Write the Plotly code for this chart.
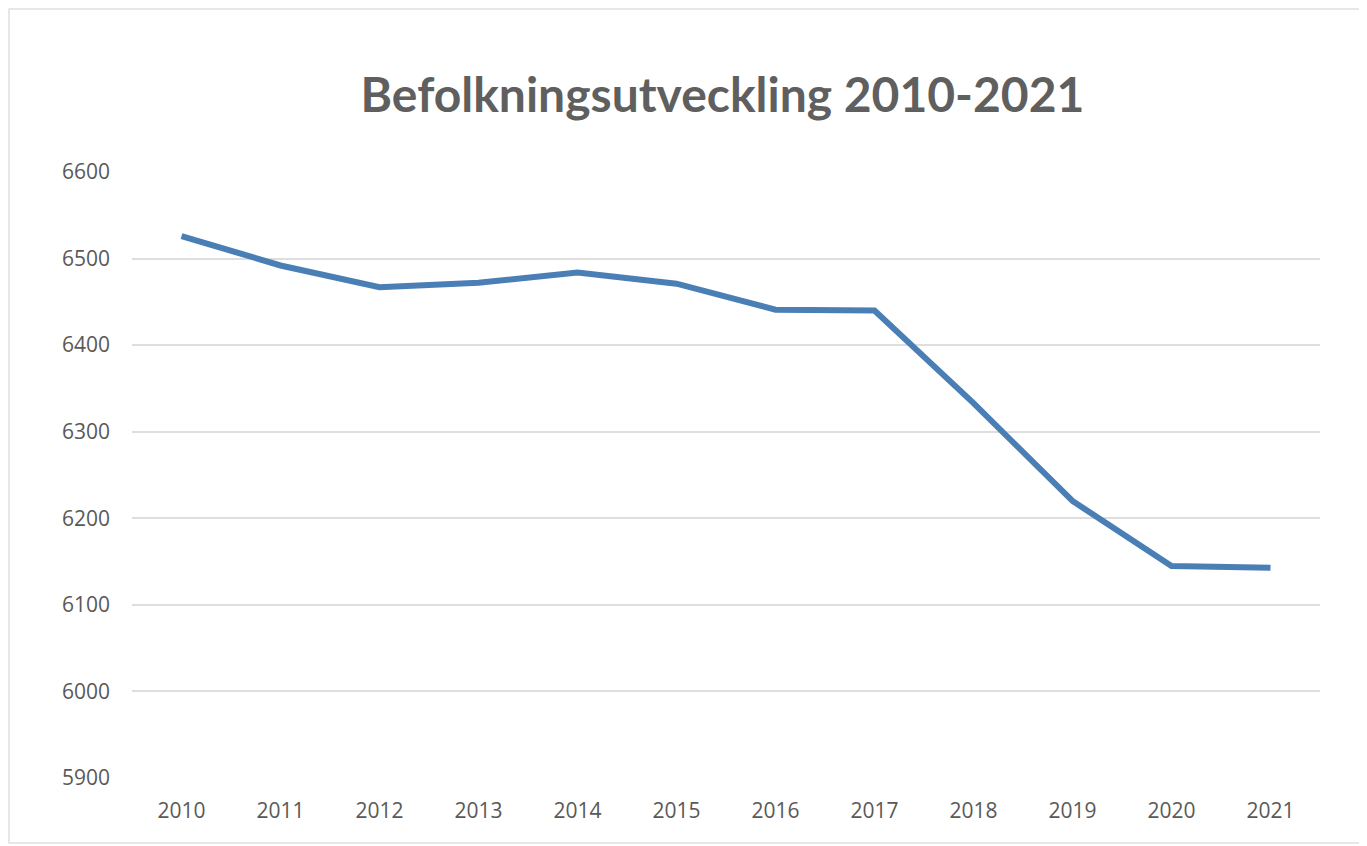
import plotly.graph_objects as go

years = ["2010", "2011", "2012", "2013", "2014", "2015",
         "2016", "2017", "2018", "2019", "2020", "2021"]
population = [6526, 6492, 6467, 6472, 6484, 6471,
              6441, 6440, 6333, 6220, 6145, 6143]
y_ticks = [5900, 6000, 6100, 6200, 6300, 6400, 6500, 6600]

# the page body adds an 8px offset; compensate so the chart lands where intended
OFF = 8
W, H = 1367 - OFF, 846 - OFF
L, R, T, B = 132 - OFF, 47, 172 - OFF, 68
pw, ph = W - L - R, H - T - B

def px_x(p):  # p in page pixels
    return (p - OFF - L) / pw

def px_y(p):
    return (H - B - (p - OFF)) / ph

fig = go.Figure()
fig.add_trace(go.Scatter(
    x=years, y=population, mode="lines",
    line=dict(color="#4a7fb6", width=6, shape="linear"),
    hoverinfo="x+y", showlegend=False,
))

fig.update_layout(
    width=W, height=H,
    margin=dict(l=L, r=R, t=T, b=B, pad=0),
    paper_bgcolor="white", plot_bgcolor="white",
    title=dict(
        text="<b>Befolkningsutveckling 2010-2021</b>",
        x=((363 + 1082) / 2 - OFF) / W, xanchor="center",
        y=1 - (95 - OFF) / H, yanchor="middle",
        font=dict(family="Lato", size=48, color="#5f5f5f"),
    ),
    xaxis=dict(
        type="category", range=[-0.5, 11.5],
        showgrid=False, zeroline=False, showline=False,
        ticks="", ticklabelstandoff=18,
        tickfont=dict(family="Open Sans", size=21, color="#595959"),
        fixedrange=True,
    ),
    yaxis=dict(
        range=[5900, 6600], tickvals=y_ticks,
        showgrid=True, gridcolor="#dedede", gridwidth=1.5,
        zeroline=False, showline=False,
        ticks="", ticklabelstandoff=21,
        tickfont=dict(family="Open Sans", size=21, color="#595959"),
        fixedrange=True,
    ),
    shapes=[dict(
        type="rect", xref="paper", yref="paper",
        x0=px_x(OFF + 1), x1=px_x(1362), y0=px_y(843), y1=px_y(OFF + 1),
        line=dict(color="#e0e0e0", width=1.5), fillcolor="rgba(0,0,0,0)",
        layer="below",
    )],
)

fig.write_html("out.html")
